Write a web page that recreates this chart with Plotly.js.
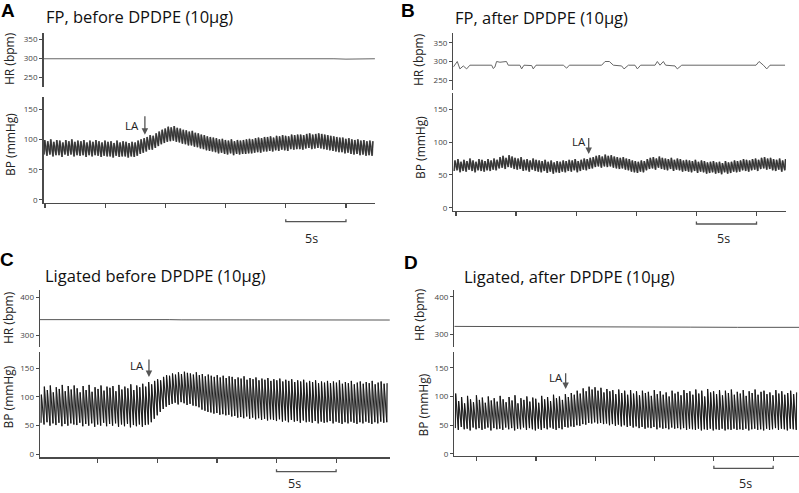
<!DOCTYPE html>
<html><head><meta charset="utf-8">
<script src="https://cdn.plot.ly/plotly-3.0.1.min.js"></script>
<style>html,body{margin:0;padding:0;background:#fff}#chart{width:799px;height:493px}</style>
</head><body><div id="chart"></div>
<script>
// ---------------- DATA ----------------
const panelLetters = ["A","B","C","D"];
const panelTitles = ["FP, before DPDPE (10μg)","FP, after DPDPE (10μg)","Ligated before DPDPE (10μg)","Ligated, after DPDPE (10μg)"];
const hrTitle = "HR (bpm)";
const bpTitle = "BP (mmHg)";
const markerLabel = "LA";
const scaleLabel = "5s";
const timeTicks = [0,5,10,15,20,25];
const hrTicksAB = [250,300,350];
const hrTicksCD = [300,400];
const bpTicks = [0,50,100,150];

// beat sampling (s)
const A_t0 = -0.08, A_dt = 0.25;
const B_t0 = -0.15, B_dt = 0.25;
const C_t0 = 0.25, C_dt = 0.25;
const D_t0 = -1.8, D_dt = 0.25;

// Panel A: per-beat systolic / diastolic BP (mmHg)
const A_sys = [99,97,100,96,99,98,95,99,97,100,96,98, 97,99,95,98,96,99,97,95, 98,96,97,94,98,95,97,96,94, 96,95,98,100,102,
 104,107,106,110,113,116,118,121, 120,122,119,118,116,115, 113,114,111,110,108,107,105,104,103, 102,100,101,99,98,100,97,99,
 98,99,100,101,100,102,103,102,104, 104,105,103,106,105,107,106,105,108,107,108, 108,107,109,110,108,109,110,
 109,108,107,106,105,104,103, 103,101,102,100,99,100,98,99,97,98,97];
const A_dia = [75,73,75,72,74,74,71,75,73,75,72,74, 73,74,71,74,72,74,73,71, 73,72,72,70,73,71,72,72,70, 72,71,73,76,78,
 80,83,83,86,89,92,94,96, 97,98,96,95,93,92, 90,90,88,87,85,84,82,81,80, 79,77,78,76,75,77,74,76,
 75,76,76,77,77,78,79,78,80, 80,81,80,82,81,83,82,81,84,83,84, 84,83,85,86,84,85,86,
 85,84,83,82,81,80,79, 79,77,78,76,75,76,74,75,73,74,73];
// Panel A: HR (bpm)
const A_hrT = [-0.1,1.5,3,4.5,6,7.5,9,10.5,12,13.5,14.3,15,16.5,18,19.5,21,22.5,24,25,26,27.4];
const A_hr  = [298,298,297.5,298,298,298,298.5,298,298,298,299,298,298,298,297.5,298,298,298,297,297.5,298];

// Panel B
const B_sys = [72,74,70,73,71,75,72,70,74,73,71,74,72,75,73, 77,79,76,80,78, 76,75,77,73,74,72,75,73,
 72,71,73,70,72,69,71,70,72, 71,73,72,74,71,73,75,74,76, 77,79,80,78,81,79,80, 78,77,76,77,75,74,
 72,71,70,72,71, 74,76,77,75,78,76, 75,74,76,73,75,74,72,73, 72,71,73,70,72,71,69,70,71,
 69,70,68,71,69,70,72,71, 72,74,73,72,74,75,73,76, 77,75,76,74,73,75,72,74];
const B_dia = [56,57,54,56,55,58,56,54,57,56,55,57,56,58,57, 60,61,59,62,61, 59,58,59,56,57,55,58,56,
 55,54,56,53,55,52,54,53,55, 54,56,55,57,54,56,58,57,59, 60,62,63,61,63,62,63, 61,60,59,60,58,57,
 55,54,53,55,54, 57,59,60,58,61,59, 58,57,59,56,58,57,55,56, 55,54,56,53,55,54,52,53,54,
 52,53,51,54,52,53,55,54, 55,57,56,55,57,58,56,59, 60,58,59,57,56,58,55,57];
const B_hrT = [-0.22,0.11,0.33,0.61,0.89,1.16,2.97,3.1,3.24,3.38,3.66,4.2,4.35,5.32,5.46,5.66,6.3,6.43,6.66,8.93,9.21,9.43,
 12.12,12.4,12.76,13.09,13.78,13.98,14.34,14.89,15.09,15.36,16.56,16.75,16.97,17.25,17.44,18.22,18.41,18.78,24.96,25.21,25.57,25.85,26.12,27.37];
const B_hr  = [285,300,280,288,280,290,290,281,285,300,298,300,290,290,280,290,289,280,290,290,282,290,
 290,300,300,290,288,280,290,290,280,290,290,300,290,300,290,288,280,290,290,300,290,280,290,290];

// Panel C
const C_sys = [104,118,112,120,108,117,114,121,110,119,113,120, 115,108,119,112,121,109,117,114,120,111,118,116,
 119,110,121,113,118,115,122,112,120,117,123,118, 126,122,128,131,129,135,138,137,
 141,139,143,140,144,142,141,139,143,138, 140,136,139,137,135,138,134,137,133,136,
 135,131,134,132,136,130,133,131,134,129,132,130,133,128,
 131,129,132,127,130,128,131,126,129,127,130,125,128,126,129,124,127,125,
 128,124,127,125,129,123,126,124,128,122,125,127,123,126,124,128,122,125,127,123,124];
const C_dia = [55,52,56,50,54,51,55,49,53,50,54,52, 51,55,49,53,50,54,48,52,50,55,49,53,
 50,54,48,52,49,53,47,51,49,52,48,51, 52,56,62,68,74,79,83,86,
 88,90,87,91,89,86,88,85,84,82, 78,76,74,73,71,72,69,70,68,69,
 66,67,64,65,63,66,62,64,61,63,60,62,59,61,
 60,58,61,57,59,56,60,57,58,55,59,56,57,55,58,54,57,55,
 56,58,54,57,55,53,56,54,57,55,53,56,54,57,55,53,56,54,57,55,56];
const C_hrT = [0.16,2,4,5,6,7,8,9,10,11,12,14,16,18,20,22,24,26,28,29.5];
const C_hr  = [342,342,342.5,343,343.5,343.5,343.5,343,342.5,342,341.5,341.5,341,341,341,341,341,341.5,341,341];

// Panel D
const D_sys = [105,92,99,88,101,95,90,102,94,98,89,100,93,97,91,
 101,95,90,99,93,102,88,97,94,100,91,98,96,89,101,
 95,99,92,103,97,100,94,104, 99,106,103,110,105,114,109,117,112,116,
 110,115,107,113,109,111,104,112,106,110,
 103,111,105,109,102,110,106,108,101,111,104,109,103,107,100,110,105,108,
 102,111,106,109,103,112,105,110,100,113,107,109,104,111,102,110,106,112,103,108,
 105,111,101,109,106,112,103,108,110,104,107,102,111,105,109,103,106,110,104,107];
const D_dia = [45,42,47,43,44,41,46,43,45,42,44,46,41,45,43,
 44,42,46,43,45,41,44,43,46,42,45,43,41,44,42,
 45,43,46,44,42,45,43,47, 46,48,47,50,49,52,51,54,53,55,
 53,54,52,53,50,52,49,51,48,50,
 47,49,46,48,45,47,44,46,45,47,43,46,44,45,43,46,44,45,
 43,45,42,44,43,42,44,41,43,42,44,41,43,42,44,41,43,42,44,42,
 43,42,44,41,43,44,42,43,41,44,42,43,45,42,44,43,41,44,43,42];
const D_hrT = [-1.89,2,6,10,14,18,22,27.18];
const D_hr  = [321,321,320.5,320,319.5,319,318.5,318.5];

// arrow (LA) time and BP level at arrow head
const laT  = [8.3, 11.04, 9.3, 7.5];
const laBP = [107.6, 81.7, 134.7, 113];

// ---------------- LAYOUT HELPERS ----------------
const W = 799, H = 493;
const PX = p => p / W;
const PY = p => 1 - p / H;

function beats(t0, dt, sys, dia, rise) {
  const x = [], y = [];
  for (let i = 0; i < sys.length; i++) {
    x.push(t0 + i * dt); y.push(dia[i]);
    x.push(t0 + (i + rise) * dt); y.push(sys[i]);
  }
  return {x, y};
}

const panels = [
  {t0:A_t0, dt:A_dt, sys:A_sys, dia:A_dia, hrT:A_hrT, hr:A_hr, hrTicks:hrTicksAB, bpCol:'#333', under:'#777', uw:1.8, bw:1.1, rise:0.25, hrCol:'#666',
   xpx:[43.5,375], hrpx:[33,87], bppx:[97,203], xr:[-0.12,27.41], hrr:[223.7,365.8], bpr:[-5,170],
   letter:[7.5,10.5], title:[43.5,17], hrLab:[10,59], bpLab:[10,145], la:[131.7,125], laLen:20, sb:221.7, sl:[311.7,238]},
  {t0:B_t0, dt:B_dt, sys:B_sys, dia:B_dia, hrT:B_hrT, hr:B_hr, hrTicks:hrTicksAB, bpCol:'#333', under:'#777', uw:1.8, bw:1.1, rise:0.25, hrCol:'#666',
   xpx:[453.3,786], hrpx:[33,90], bppx:[93,211], xr:[-0.22,27.45], hrr:[223,377], bpr:[-5,174.8],
   letter:[408,10.5], title:[453.3,17.5], hrLab:[419,60], bpLab:[420,148], la:[579,141.7], laLen:17.6, sb:224, sl:[723,239]},
  {t0:C_t0, dt:C_dt, sys:C_sys, dia:C_dia, hrT:C_hrT, hr:C_hr, hrTicks:hrTicksCD, bpCol:'#111', under:'#9a9a9a', uw:1.3, bw:0.9, rise:0.1, hrCol:'#555',
   xpx:[40,390], hrpx:[290,347], bppx:[352,457.3], xr:[0.16,29.52], hrr:[270,420], bpr:[-5.2,178.4],
   letter:[7,259.5], title:[42.7,275], hrLab:[8,318], bpLab:[7.5,397], la:[137.3,365], laLen:19, sb:471.7, sl:[294,483.5]},
  {t0:D_t0, dt:D_dt, sys:D_sys, dia:D_dia, hrT:D_hrT, hr:D_hr, hrTicks:hrTicksCD, bpCol:'#111', under:'#9a9a9a', uw:1.3, bw:0.9, rise:0.1, hrCol:'#555',
   xpx:[454.3,799], hrpx:[290,347], bppx:[352,456], xr:[-1.89,27.18], hrr:[266.2,417.8], bpr:[-3.5,177.3],
   letter:[411,262], title:[461.7,276], hrLab:[419,315], bpLab:[422.5,405], la:[556.3,377.5], laLen:17.3, sb:468.3, sl:[745.8,483.5]}
];

const FONT = "Open Sans, Noto Sans, sans-serif";
const AX = '#4a4a4a';
const traces = [];
const layout = {
  width: W, height: H, margin: {l:0, r:0, t:0, b:0},
  paper_bgcolor: '#fff', plot_bgcolor: 'rgba(0,0,0,0)',
  showlegend: false, font: {family: FONT, color: '#333'},
  annotations: [], shapes: []
};

panels.forEach((p, k) => {
  const xn = k + 1;
  const xName = xn === 1 ? 'x' : 'x' + xn;
  const bpN = 2 * k + 1, hrN = 2 * k + 2;
  const bpName = bpN === 1 ? 'y' : 'y' + bpN;
  const hrName = 'y' + hrN;
  const xKey = xn === 1 ? 'xaxis' : 'xaxis' + xn;
  const bpKey = bpN === 1 ? 'yaxis' : 'yaxis' + bpN;
  const hrKey = 'yaxis' + hrN;

  const b = beats(p.t0, p.dt, p.sys, p.dia, p.rise);
  traces.push({type:'scatter', mode:'lines', x:b.x, y:b.y, xaxis:xName, yaxis:bpName,
    line:{color:p.under, width:p.uw}, hoverinfo:'skip'});
  traces.push({type:'scatter', mode:'lines', x:b.x, y:b.y, xaxis:xName, yaxis:bpName,
    line:{color:p.bpCol, width:p.bw}, hoverinfo:'skip'});
  traces.push({type:'scatter', mode:'lines', x:p.hrT, y:p.hr, xaxis:xName, yaxis:hrName,
    line:{color:p.hrCol, width:1}, hoverinfo:'skip'});

  layout[xKey] = {domain:[PX(p.xpx[0]), PX(p.xpx[1])], range:p.xr, anchor:bpName,
    showline:true, linecolor:AX, linewidth:1.4, showgrid:false, zeroline:false,
    tickmode:'array', tickvals:timeTicks, ticks:'outside', ticklen:4, tickwidth:1.2, tickcolor:AX,
    showticklabels:false, fixedrange:true};
  const yCommon = {anchor:xName, showline:true, linecolor:AX, linewidth:1.4, showgrid:false, zeroline:false,
    ticks:'outside', ticklen:3, tickwidth:1, tickcolor:AX, tickmode:'array',
    tickfont:{family:FONT, size:8, color:'#444'}, fixedrange:true};
  layout[bpKey] = Object.assign({}, yCommon, {domain:[PY(p.bppx[1]), PY(p.bppx[0])], range:p.bpr, tickvals:bpTicks});
  layout[hrKey] = Object.assign({}, yCommon, {domain:[PY(p.hrpx[1]), PY(p.hrpx[0])], range:p.hrr, tickvals:p.hrTicks});

  const A = layout.annotations;
  A.push({xref:'paper', yref:'paper', x:PX(p.letter[0]), y:PY(p.letter[1]), text:'<b>'+panelLetters[k]+'</b>',
    showarrow:false, xanchor:'center', yanchor:'middle', font:{family:'Liberation Sans, Arial, sans-serif', size:19, color:'#000'}});
  A.push({xref:'paper', yref:'paper', x:PX(p.title[0]), y:PY(p.title[1]), text:panelTitles[k],
    showarrow:false, xanchor:'left', yanchor:'middle', font:{family:FONT, size:16.5, color:'#111'}});
  A.push({xref:'paper', yref:'paper', x:PX(p.hrLab[0]), y:PY(p.hrLab[1]), text:hrTitle, textangle:-90,
    showarrow:false, xanchor:'center', yanchor:'middle', font:{family:FONT, size:12, color:'#222'}});
  A.push({xref:'paper', yref:'paper', x:PX(p.bpLab[0]), y:PY(p.bpLab[1]), text:bpTitle, textangle:-90,
    showarrow:false, xanchor:'center', yanchor:'middle', font:{family:FONT, size:12, color:'#222'}});
  A.push({xref:'paper', yref:'paper', x:PX(p.la[0]), y:PY(p.la[1]), text:markerLabel,
    showarrow:false, xanchor:'center', yanchor:'middle', font:{family:FONT, size:11.5, color:'#222'}});
  A.push({xref:xName, yref:bpName, x:laT[k], y:laBP[k], text:'', showarrow:true, ax:0, ay:-p.laLen,
    arrowhead:2, arrowsize:1, arrowwidth:1.3, arrowcolor:'#555', standoff:0, startstandoff:0});
  A.push({xref:'paper', yref:'paper', x:PX(p.sl[0]), y:PY(p.sl[1]), text:scaleLabel,
    showarrow:false, xanchor:'center', yanchor:'middle', font:{family:FONT, size:12.5, color:'#222'}});

  const yb = PY(p.sb), yt = PY(p.sb - 2.5);
  layout.shapes.push({type:'path', xref:xName, yref:'paper',
    path:`M ${timeTicks[4]},${yt} L ${timeTicks[4]},${yb} L ${timeTicks[5]},${yb} L ${timeTicks[5]},${yt}`,
    line:{color:'#555', width:1.3}});
});

Plotly.newPlot('chart', traces, layout, {staticPlot:true, displayModeBar:false});
</script></body></html>
